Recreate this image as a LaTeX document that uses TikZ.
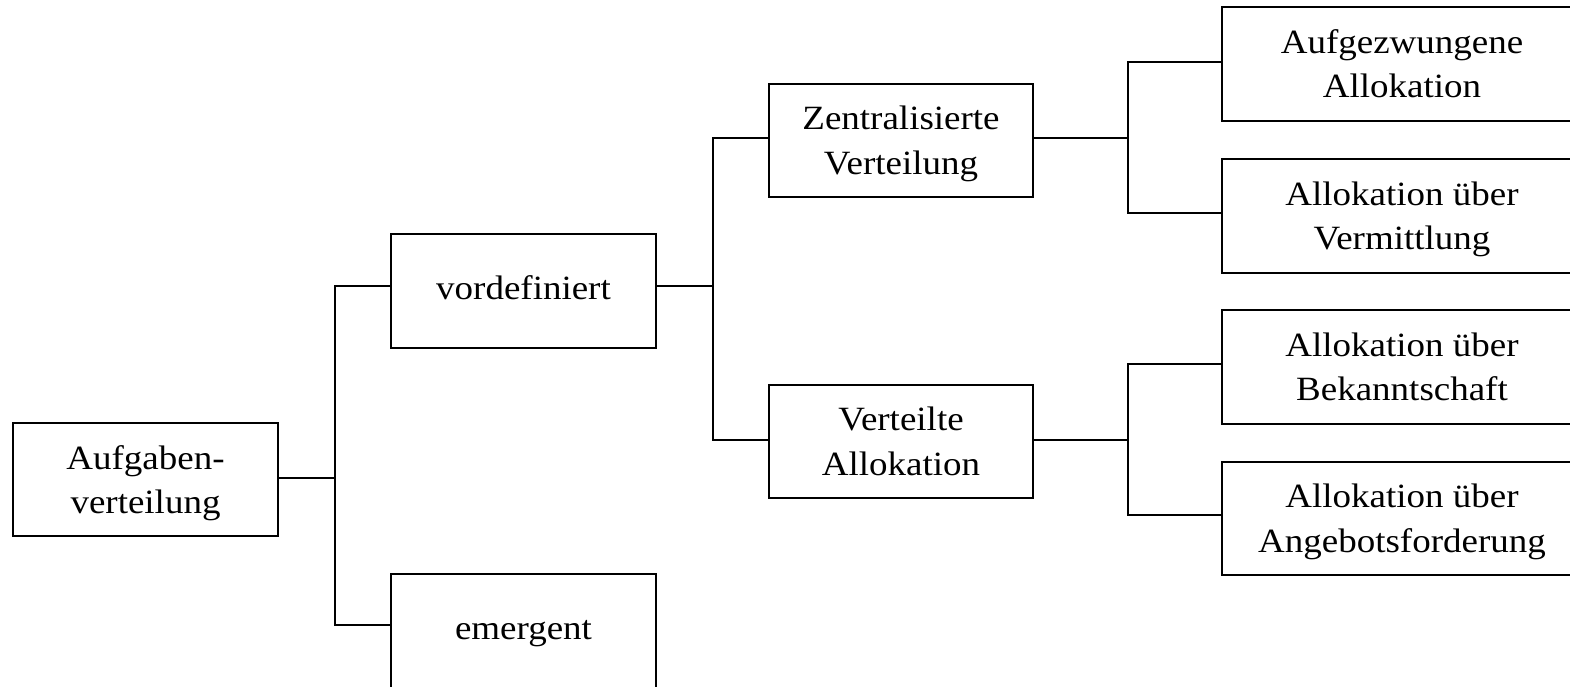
\documentclass[tikz,border=0pt]{standalone}
\usepackage{fontspec}
\setmainfont{Liberation Serif}[FakeStretch=1.088]
\begin{document}
\begin{tikzpicture}[x=1pt,y=-1pt,
  box/.style={draw,line width=2pt,inner sep=0pt,align=center,
    minimum width=265pt,minimum height=113.4pt,
    font=\fontsize{34}{44.5}\selectfont},
  twoline/.style={box,text depth=0.5pt},
  oneline/.style={box,text height=17pt,text depth=0pt},
  wide/.style={twoline,minimum width=360pt},
  conn/.style={line width=2pt}]
\useasboundingbox (0,0) rectangle (1570,686);
\clip (0,0) rectangle (1570,686);

% nodes of the classification tree
\node[twoline] (auf) at (145.5,479.7) {Aufgaben-\\verteilung};
\node[oneline] (vor) at (523.5,291) {vordefiniert};
\node[oneline,minimum height=118pt,text height=13pt] (eme) at (523.5,632.8) {emergent};
\node[twoline,minimum width=264pt] (zen) at (901,140.5) {Zentralisierte\\Verteilung};
\node[twoline,minimum width=264pt] (ver) at (901,441.5) {Verteilte\\Allokation};
\node[wide] (r1) at (1402,64) {Aufgezwungene\\Allokation};
\node[wide] (r2) at (1402,216) {Allokation über\\Vermittlung};
\node[wide] (r3) at (1402,367) {Allokation über\\Bekanntschaft};
\node[wide] (r4) at (1402,518.3) {Allokation über\\Angebotsforderung};

% branching points
\coordinate (j1) at (335,478.3);
\coordinate (j2) at (712.5,286);
\coordinate (j3) at (1128,138);
\coordinate (j4) at (1128,440);

% connectors
\draw[conn] ([yshift=1.4pt]auf.east) -- (j1);
\draw[conn] ([yshift=5pt]vor.west) -| (j1);
\draw[conn] ([yshift=7.8pt]eme.west) -| (j1);

\draw[conn] ([yshift=5pt]vor.east) -- (j2);
\draw[conn] ([yshift=2.5pt]zen.west) -| (j2);
\draw[conn] ([yshift=1.5pt]ver.west) -| (j2);

\draw[conn] ([yshift=2.5pt]zen.east) -- (j3);
\draw[conn] ([yshift=2.3pt]r1.west) -| (j3);
\draw[conn] ([yshift=3pt]r2.west) -| (j3);

\draw[conn] ([yshift=1.5pt]ver.east) -- (j4);
\draw[conn] ([yshift=3pt]r3.west) -| (j4);
\draw[conn] ([yshift=3.3pt]r4.west) -| (j4);
\end{tikzpicture}
\end{document}
